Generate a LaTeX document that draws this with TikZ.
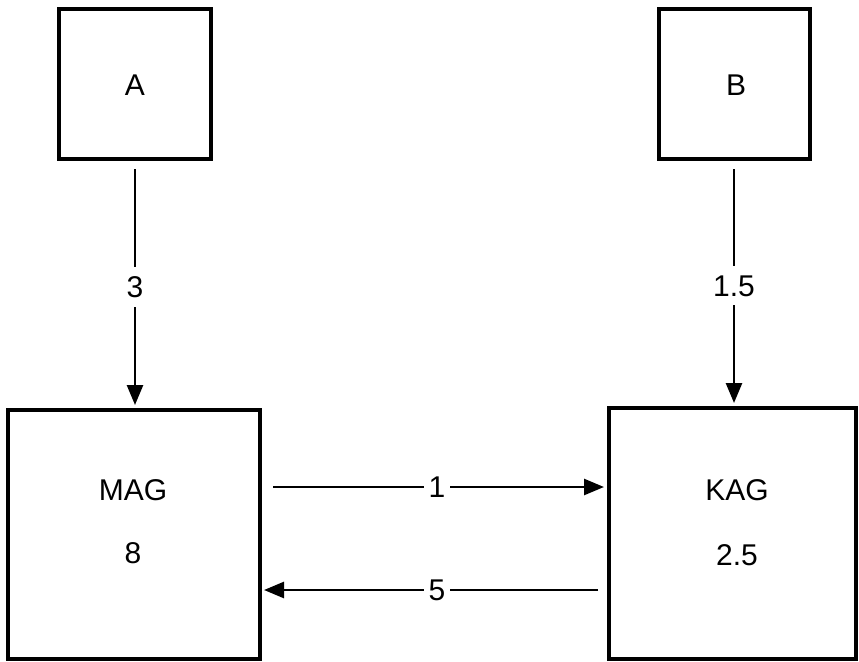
\documentclass[tikz,border=0pt]{standalone}
\usepackage{fontspec}
\setmainfont{Liberation Sans}
\usetikzlibrary{arrows.meta}
\begin{document}
\begin{tikzpicture}[x=1pt,y=-1pt,
  box/.style={draw=black, line width=4pt, fill=none, inner sep=0pt},
  txt/.style={font=\fontsize{30}{34}\selectfont, inner sep=0pt},
  arr/.style={line width=2.6pt, -{Triangle[length=20pt,width=16pt]}},
  lab/.style={font=\fontsize{30}{34}\selectfont, fill=white, inner xsep=4.5pt, inner ysep=9pt}]
\useasboundingbox (0,0) rectangle (859,661);
% boxes
\node[box, minimum width=152pt, minimum height=150pt] (A) at (135,84) {};
\node[box, minimum width=151pt, minimum height=150pt] (B) at (734,84) {};
\node[box, minimum width=252pt, minimum height=249pt] (MAG) at (134,534.5) {};
\node[box, minimum width=247pt, minimum height=251pt] (KAG) at (732.5,533.5) {};
% texts
\node[txt] (tA) at (135,85) {A};
\node[txt] (tB) at (736,85) {B};
\node[txt] (tMAG) at (133,490) {MAG};
\node[txt] (vMAG) at (133,553) {8};
\node[txt] (tKAG) at (737,490) {KAG};
\node[txt] (vKAG) at (737,555) {2.5};
% connectors
\draw[arr, shorten <=8pt, shorten >=3pt] (A.south) -- (A.south |- MAG.north)
  node[lab, pos=0.51] (l3) {3};
\draw[arr, shorten <=8pt, shorten >=3pt] (B.south) -- (B.south |- KAG.north)
  node[lab, pos=0.51] (l15) {1.5};
\draw[arr, shorten <=11pt, shorten >=3pt] ([yshift=47.5pt]MAG.east) -- ([yshift=47.5pt]MAG.east -| KAG.west)
  node[lab, pos=0.507] (l1) {1};
\draw[arr, shorten <=9pt, shorten >=2pt] ([yshift=-55.5pt]MAG.east -| KAG.west) -- ([yshift=-55.5pt]MAG.east)
  node[lab, pos=0.493] (l5) {5};
\end{tikzpicture}
\end{document}
